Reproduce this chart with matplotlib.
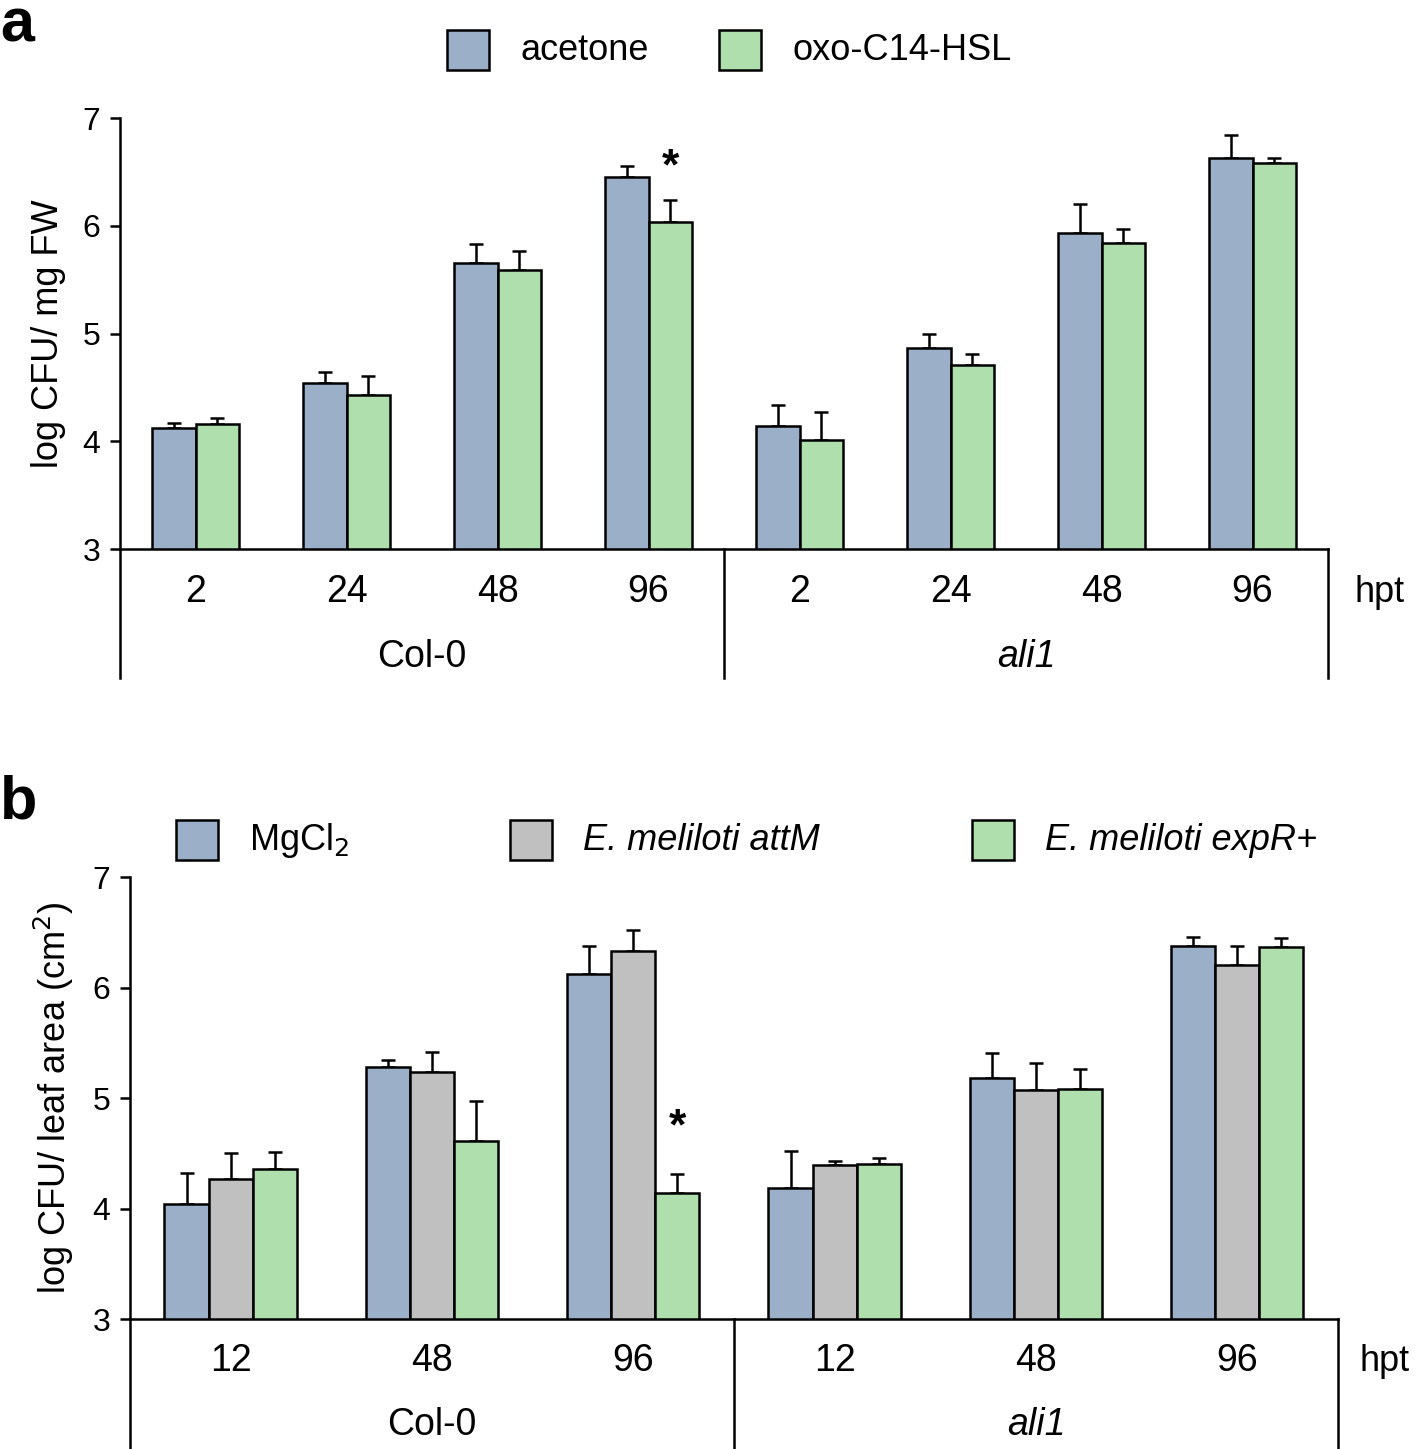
import numpy as np
import matplotlib
matplotlib.use("Agg")
import matplotlib.pyplot as plt
from matplotlib.patches import Rectangle
import matplotlib.transforms as mtransforms

plt.rcParams["font.family"] = ["Liberation Sans", "DejaVu Sans"]

# panel a data
a_times = ["2", "24", "48", "96"]
a_genotypes = ["Col-0", "ali1"]
a_series = ["acetone", "oxo-C14-HSL"]
a_acetone = [4.12, 4.54, 5.66, 6.45, 4.14, 4.87, 5.93, 6.63]
a_acetone_err = [0.05, 0.10, 0.17, 0.11, 0.20, 0.13, 0.27, 0.21]
a_oxo = [4.16, 4.43, 5.59, 6.04, 4.01, 4.71, 5.84, 6.58]
a_oxo_err = [0.06, 0.18, 0.18, 0.20, 0.26, 0.10, 0.13, 0.05]
a_star = [(3, 1)]  # (group index, series index)

# panel b data
b_times = ["12", "48", "96"]
b_genotypes = ["Col-0", "ali1"]
b_series = ["MgCl$_2$", "E. meliloti attM", "E. meliloti expR+"]
b_mgcl2 = [4.04, 5.28, 6.12, 4.19, 5.18, 6.38]
b_mgcl2_err = [0.28, 0.06, 0.26, 0.33, 0.23, 0.08]
b_attm = [4.27, 5.24, 6.33, 4.39, 5.07, 6.20]
b_attm_err = [0.23, 0.18, 0.19, 0.04, 0.25, 0.18]
b_expr = [4.36, 4.61, 4.14, 4.40, 5.08, 6.37]
b_expr_err = [0.15, 0.36, 0.17, 0.06, 0.18, 0.08]
b_star = [(2, 2)]

blue = "#9BAFC9"
green = "#B0DFAE"
grey = "#C0C0C0"
LW = 1.8


def bar_panel(ax, values, errors, colors, width, times, genotypes, stars,
              star_gap, ylabel, tick_y, group_y, hpt_x, line_bottom):
    n_groups = len(values[0])
    n_series = len(values)
    x = np.arange(n_groups)
    for i, (vals, errs, col) in enumerate(zip(values, errors, colors)):
        offs = (i - (n_series - 1) / 2) * width
        ax.bar(x + offs, vals, width, bottom=0, color=col, edgecolor="black",
               linewidth=LW, zorder=2)
        ax.errorbar(x + offs, vals, yerr=[np.zeros(n_groups), errs], fmt="none",
                    ecolor="black", elinewidth=LW, capsize=5, capthick=LW, zorder=1)
    for g, s in stars:
        offs = (s - (n_series - 1) / 2) * width
        ax.text(g + offs, values[s][g] + errors[s][g] + star_gap, "*",
                ha="center", va="center", fontsize=32, fontweight="bold")

    ax.set_xlim(-0.5, n_groups - 0.5)
    ax.set_ylim(3, 7)
    ax.set_yticks([3, 4, 5, 6, 7])
    ax.tick_params(axis="y", direction="out", length=7, width=LW,
                   labelsize=23, pad=7)
    ax.set_xticks([])
    for sp in ["top", "right"]:
        ax.spines[sp].set_visible(False)
    ax.spines["left"].set_linewidth(LW)
    ax.spines["bottom"].set_linewidth(LW)
    ax.set_ylabel(ylabel, fontsize=26, labelpad=12)

    trans = mtransforms.blended_transform_factory(ax.transData, ax.transAxes)
    labels = times * len(genotypes)
    for i, lab in enumerate(labels):
        ax.text(i, tick_y, lab, transform=trans, ha="center", va="center",
                fontsize=27)
    per = len(times)
    for k, gname in enumerate(genotypes):
        center = k * per + (per - 1) / 2
        ax.text(center, group_y, gname, transform=trans, ha="center",
                va="center", fontsize=27,
                style="italic" if gname == "ali1" else "normal")
    for xv in [0, 0.5, 1]:
        ax.plot([xv, xv], [0, line_bottom], transform=ax.transAxes,
                color="black", lw=LW, clip_on=False)
    ax.text(hpt_x, tick_y, "hpt", transform=ax.transAxes, ha="left",
            va="center", fontsize=26)


fig = plt.figure(figsize=(14.17, 14.49), dpi=100)

ax_a = fig.add_axes([0.0847, 0.621, 0.8525, 0.2975])
bar_panel(ax_a, [a_acetone, a_oxo], [a_acetone_err, a_oxo_err], [blue, green],
          0.285, a_times, a_genotypes, a_star, 0.3, "log CFU/ mg FW",
          -0.1, -0.25, 1.022, -0.30)

ax_b = fig.add_axes([0.0917, 0.0897, 0.8525, 0.305])
bar_panel(ax_b, [b_mgcl2, b_attm, b_expr], [b_mgcl2_err, b_attm_err, b_expr_err],
          [blue, grey, green], 0.219, b_times, b_genotypes, b_star, 0.42,
          "log CFU/ leaf area (cm$^2$)", -0.095, -0.24, 1.018, -0.30)

# panel letters
fig.text(0.0, 0.982, "a", fontsize=44, fontweight="bold", ha="left", va="center")
fig.text(0.0, 0.446, "b", fontsize=44, fontweight="bold", ha="left", va="center")


def legend_item(x_px, y_px, color, label, italic=False):
    W, H = 1417.0, 1449.0
    fig.patches.append(Rectangle((x_px / W, 1 - (y_px + 20) / H), 42 / W, 40 / H,
                                 transform=fig.transFigure, facecolor=color,
                                 edgecolor="black", linewidth=LW))
    fig.text((x_px + 73) / W, 1 - y_px / H, label, fontsize=26,
             ha="left", va="center", style="italic" if italic else "normal")


legend_item(447, 50, blue, a_series[0])
legend_item(719, 50, green, a_series[1])
legend_item(176, 840, blue, b_series[0])
legend_item(510, 840, grey, b_series[1], italic=True)
legend_item(972, 840, green, b_series[2], italic=True)

fig.savefig("out.png", dpi=100)
